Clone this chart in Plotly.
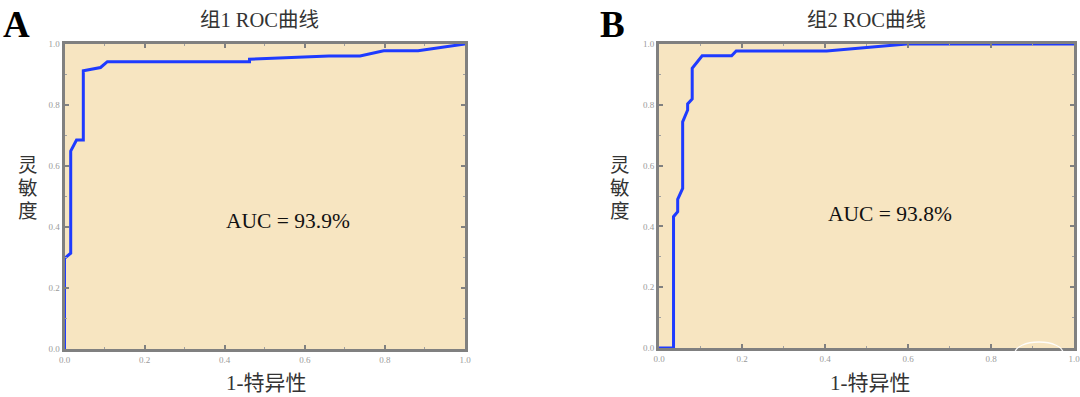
import plotly.graph_objects as go

# ---- data ----
g1_fpr = [0.0, 0.0, 0.0155, 0.0155, 0.030, 0.047, 0.047, 0.090, 0.107, 0.462, 0.462, 0.66, 0.738, 0.797, 0.883, 1.0]
g1_tpr = [0.0, 0.297, 0.314, 0.649, 0.685, 0.685, 0.912, 0.923, 0.942, 0.942, 0.950, 0.961, 0.961, 0.978, 0.978, 1.0]

g2_fpr = [0.0, 0.035, 0.035, 0.045, 0.045, 0.057, 0.057, 0.069, 0.069, 0.080, 0.080, 0.104, 0.175, 0.186, 0.404, 0.597, 1.0]
g2_tpr = [0.0, 0.0, 0.432, 0.448, 0.489, 0.525, 0.744, 0.783, 0.803, 0.819, 0.920, 0.961, 0.961, 0.977, 0.977, 1.0, 1.0]

titles = ["组1 ROC曲线", "组2 ROC曲线"]
auc_texts = ["AUC = 93.9%", "AUC = 93.8%"]
panel_letters = ["A", "B"]
x_title = "1-特异性"
y_title_chars = ["灵", "敏", "度"]
tick_vals = [0.0, 0.2, 0.4, 0.6, 0.8, 1.0]
tick_text = ["0.0", "0.2", "0.4", "0.6", "0.8", "1.0"]

W, H = 1080, 397
SERIF = "Liberation Serif, Noto Sans CJK SC, serif"
BG = "#F7E5C1"
FRAME = "#808080"
BLUE = "#1F3BFF"


def px(x):
    return x / W


def py(y):
    return 1 - y / H


# plot boxes in pixels (left, right, top, bottom)
boxes = [(64.5, 465, 44, 349), (659, 1074, 44, 348)]

fig = go.Figure()

fig.add_trace(go.Scatter(x=g1_fpr, y=g1_tpr, mode="lines", xaxis="x", yaxis="y",
                         line=dict(color=BLUE, width=3), cliponaxis=False, showlegend=False,
                         hoverinfo="skip"))
fig.add_trace(go.Scatter(x=g2_fpr, y=g2_tpr, mode="lines", xaxis="x2", yaxis="y2",
                         line=dict(color=BLUE, width=3), cliponaxis=False, showlegend=False,
                         hoverinfo="skip"))


def axis_common():
    return dict(
        range=[0, 1], showgrid=False, zeroline=False, automargin=False,
        showline=True, linecolor=FRAME, linewidth=3, mirror="ticks",
        ticks="inside", ticklen=4, tickwidth=1.5, tickcolor=FRAME,
        tickvals=tick_vals, ticktext=tick_text, ticklabeloverflow="allow",
        tickfont=dict(family=SERIF, size=9, color="#9a9a9a"),
        minor=dict(ticks="inside", ticklen=2, tickwidth=1, tickcolor="#a0a0a0", dtick=0.1),
        fixedrange=True,
    )


layout = dict(width=W, height=H, margin=dict(l=0, r=0, t=0, b=0, pad=0),
              paper_bgcolor="white", plot_bgcolor=BG, showlegend=False)

for i, (l, r, t, b) in enumerate(boxes):
    sfx = "" if i == 0 else "2"
    xa = axis_common()
    xa.update(domain=[px(l), px(r)], anchor="y" + sfx)
    ya = axis_common()
    ya.update(domain=[py(b), py(t)], anchor="x" + sfx)
    layout["xaxis" + sfx] = xa
    layout["yaxis" + sfx] = ya

fig.update_layout(**layout)

annots = []
letter_pos = [(16, 24), (612.5, 24)]
title_pos = [(259, 20), (866, 20)]
auc_pos = [(288, 221), (890, 214)]
xlab_pos = [(266, 383), (870, 383)]
ylab_x = [27.5, 619.5]
ylab_y = [165, 188.5, 212]


def add(text, x, y, size, color, family=SERIF):
    annots.append(dict(text=text, x=px(x), y=py(y), xref="paper", yref="paper",
                       showarrow=False, font=dict(family=family, size=size, color=color),
                       xanchor="center", yanchor="middle"))


for i in range(2):
    add("<b>%s</b>" % panel_letters[i], letter_pos[i][0], letter_pos[i][1], 37, "black")
    add(titles[i], title_pos[i][0], title_pos[i][1], 20.5, "#333333")
    add(auc_texts[i], auc_pos[i][0], auc_pos[i][1], 21.5, "#111111")
    add(x_title, xlab_pos[i][0], xlab_pos[i][1], 21, "#333333")
    for ch, yy in zip(y_title_chars, ylab_y):
        add(ch, ylab_x[i], yy, 19.5, "#333333")

fig.update_layout(annotations=annots)

# faint white watermark ring near the lower-right corner of panel B
fig.add_shape(type="circle", xref="paper", yref="paper",
              x0=px(1015), x1=px(1063), y0=py(364), y1=py(342),
              line=dict(color="rgba(255,255,255,0.9)", width=1.3), layer="above")

# remove the default 8px page margin so the 1080x397 figure fills the window exactly
fig.write_html(
    "out.html",
    config={"displayModeBar": False},
    post_script="document.body.style.margin='0';document.body.style.overflow='hidden';",
)
